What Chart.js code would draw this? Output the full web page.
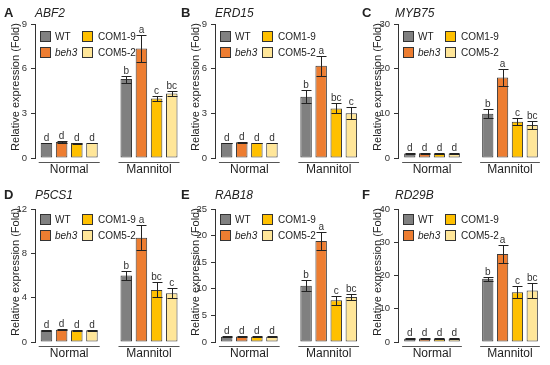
<!DOCTYPE html>
<html>
<head>
<meta charset="utf-8">
<script src="https://cdn.jsdelivr.net/npm/chart.js@4.4.1/dist/chart.umd.min.js"></script>
<style>
    body { margin: 0; background: #fff; }
    #wrap { position: relative; width: 550px; height: 365px; overflow: hidden;
            font-family: 'Liberation Sans', Arial, sans-serif; color: #222; }
    canvas { position: absolute; }
    .t { position: absolute; white-space: nowrap; }
    .sw { position: absolute; width: 11px; height: 11px; box-sizing: border-box; border: 1px solid #333; }
</style>
</head>
<body>
<div id="wrap"></div>
<script>
// Categories and series
const groups = ['Normal', 'Mannitol'];
const lines = ['WT', 'beh3', 'COM1-9', 'COM5-2'];
const lineColors = ['#808080', '#ED7D31', '#FFC000', '#FFE699'];
const genes = ['ABF2', 'ERD15', 'MYB75', 'P5CS1', 'RAB18', 'RD29B'];
const panelLetters = ['A', 'B', 'C', 'D', 'E', 'F'];
const yMax = [9, 9, 30, 12, 25, 40];
const yStep = [3, 3, 10, 4, 5, 10];

// mean values: [Normal x4 lines], [Mannitol x4 lines]
const ABF2_mean = [[1.00, 1.07, 1.00, 1.00], [5.30, 7.35, 4.00, 4.33]];
const ABF2_err = [[0.02, 0.04, 0.03, 0.02], [0.24, 0.88, 0.18, 0.18]];
const ERD15_mean = [[1.00, 1.05, 1.00, 1.00], [4.12, 6.19, 3.33, 3.00]];
const ERD15_err = [[0.02, 0.04, 0.02, 0.02], [0.43, 0.68, 0.34, 0.40]];
const MYB75_mean = [[1.00, 1.05, 1.00, 1.00], [9.90, 18.0, 8.10, 7.40]];
const MYB75_err = [[0.10, 0.15, 0.10, 0.10], [1.05, 1.90, 0.75, 0.95]];
const P5CS1_mean = [[1.05, 1.10, 1.05, 1.05], [6.00, 9.40, 4.70, 4.40]];
const P5CS1_err = [[0.03, 0.06, 0.03, 0.05], [0.42, 1.12, 0.67, 0.45]];
const RAB18_mean = [[1.00, 1.05, 1.00, 1.00], [10.55, 19.0, 7.85, 8.45]];
const RAB18_err = [[0.10, 0.15, 0.10, 0.10], [1.04, 1.76, 0.88, 0.63]];
const RD29B_mean = [[1.00, 1.05, 1.00, 1.00], [19.0, 26.5, 15.0, 15.5]];
const RD29B_err = [[0.10, 0.20, 0.10, 0.10], [0.65, 2.65, 1.85, 2.35]];

// significance letters
const normalLetters = ['d', 'd', 'd', 'd'];
const ABF2_letters = ['b', 'a', 'c', 'bc'];
const ERD15_letters = ['b', 'a', 'bc', 'c'];
const MYB75_letters = ['b', 'a', 'c', 'bc'];
const P5CS1_letters = ['b', 'a', 'bc', 'c'];
const RAB18_letters = ['b', 'a', 'c', 'bc'];
const RD29B_letters = ['b', 'a', 'c', 'bc'];

const means = [ABF2_mean, ERD15_mean, MYB75_mean, P5CS1_mean, RAB18_mean, RD29B_mean];
const errs = [ABF2_err, ERD15_err, MYB75_err, P5CS1_err, RAB18_err, RD29B_err];
const letters = [ABF2_letters, ERD15_letters, MYB75_letters, P5CS1_letters, RAB18_letters, RD29B_letters];

// layout (pixels)
const rows = [
    { top: 0, h: 182, plotTop: 24, plotBottom: 158, legendDy: 7, textY: 13 },
    { top: 182, h: 183, plotTop: 209, plotBottom: 342, legendDy: 5, textY: 195 }
];
const cols = [
    { left: 0, right: 186, axis: 35, c0: 69.2, c1: 149, letterX: 4, geneX: 35, titleX: 14.5 },
    { left: 180, right: 366, axis: 215, c0: 249.3, c1: 328.7, letterX: 181, geneX: 215, titleX: 194.5 },
    { left: 365, right: 550, axis: 398, c0: 432, c1: 510, letterX: 362, geneX: 395, titleX: 376.5 }
];

const FONT = "'Liberation Sans', Arial, sans-serif";
const wrap = document.getElementById('wrap');

function addText(txt, x, y, css) {
    const el = document.createElement('div');
    el.className = 't';
    el.textContent = txt;
    el.style.left = x + 'px';
    el.style.top = y + 'px';
    Object.assign(el.style, css || {});
    wrap.appendChild(el);
    return el;
}

// error bars, letters and group underlines
const annotate = {
    id: 'annotate',
    afterDatasetsDraw(chart) {
        const ctx = chart.ctx;
        const y = chart.scales.y;
        ctx.save();
        ctx.strokeStyle = '#222';
        ctx.lineWidth = 1;
        ctx.fillStyle = '#333';
        ctx.font = '10px ' + FONT;
        ctx.textAlign = 'center';
        ctx.textBaseline = 'alphabetic';
        chart.data.datasets.forEach((ds, d) => {
            const meta = chart.getDatasetMeta(d);
            meta.data.forEach((bar, g) => {
                const m = ds.data[g].y, e = ds.err[g];
                const x = Math.round(bar.x) + 0.5;
                const top = Math.round(y.getPixelForValue(m + e)) + 0.5;
                const bot = Math.round(y.getPixelForValue(m - e)) + 0.5;
                ctx.beginPath();
                ctx.moveTo(x, top); ctx.lineTo(x, bot);
                ctx.moveTo(x - 5, top); ctx.lineTo(x + 5, top);
                ctx.moveTo(x - 5, bot); ctx.lineTo(x + 5, bot);
                ctx.stroke();
                ctx.fillText(ds.letters[g], bar.x, top - 2.5);
            });
        });
        // underline each group
        const first = chart.getDatasetMeta(0).data;
        const last = chart.getDatasetMeta(chart.data.datasets.length - 1).data;
        const uy = Math.round(chart.chartArea.bottom + 4) + 0.5;
        ctx.strokeStyle = '#555';
        groups.forEach((_, g) => {
            ctx.beginPath();
            ctx.moveTo(first[g].x - first[g].width / 2 - 2, uy);
            ctx.lineTo(last[g].x + last[g].width / 2 + 2, uy);
            ctx.stroke();
        });
        ctx.restore();
    }
};

genes.forEach((gene, p) => {
    const row = rows[Math.floor(p / 3)];
    const col = cols[p % 3];
    const unit = col.c1 - col.c0;

    const canvas = document.createElement('canvas');
    canvas.width = col.right - col.left;
    canvas.height = row.h;
    canvas.style.left = col.left + 'px';
    canvas.style.top = row.top + 'px';
    wrap.appendChild(canvas);

    const datasets = lines.map((name, i) => ({
        label: name,
        data: groups.map((_, g) => ({ x: g, y: means[p][g][i] })),
        err: [errs[p][0][i], errs[p][1][i]],
        letters: [normalLetters[i], letters[p][i]],
        backgroundColor: lineColors[i],
        borderColor: '#3a3a3a',
        borderWidth: 1,
        borderSkipped: false,
        categoryPercentage: 0.76,
        barPercentage: 0.76
    }));

    new Chart(canvas.getContext('2d'), {
        type: 'bar',
        data: { datasets: datasets },
        options: {
            responsive: false,
            animation: false,
            devicePixelRatio: 1,
            layout: { padding: { left: 0, top: row.plotTop - row.top, right: 0, bottom: 0 } },
            plugins: { legend: { display: false }, tooltip: { enabled: false } },
            scales: {
                x: {
                    type: 'linear',
                    offset: false,
                    min: -(col.c0 - col.axis) / unit,
                    max: 1 + (col.right - col.c1) / unit,
                    grid: { display: false, drawTicks: false, offset: false },
                    border: { display: false },
                    afterBuildTicks(s) { s.ticks = groups.map((_, g) => ({ value: g })); },
                    ticks: {
                        color: '#222', font: { family: FONT, size: 12 }, padding: 4,
                        autoSkip: false, maxRotation: 0,
                        callback: (v) => groups[v]
                    },
                    afterFit(s) { s.height = row.top + row.h - row.plotBottom; }
                },
                y: {
                    min: 0,
                    max: yMax[p],
                    ticks: { stepSize: yStep[p], color: '#333', font: { family: FONT, size: 9.5 }, padding: 4 },
                    grid: { drawOnChartArea: false, drawTicks: true, tickLength: 4, color: '#333' },
                    border: { color: '#333' },
                    afterFit(s) { s.width = col.axis - col.left; }
                }
            }
        },
        plugins: [annotate]
    });

    // panel letter and gene name
    addText(panelLetters[p], col.letterX, row.textY - 8, { fontWeight: 'bold', fontSize: '13px', lineHeight: '16px' });
    addText(gene, col.geneX, row.textY - 8, { fontStyle: 'italic', fontSize: '12px', lineHeight: '16px' });

    // y axis title
    addText('Relative expression (Fold)', col.titleX, (row.plotTop + row.plotBottom) / 2 - 4, {
        fontSize: '11px', transform: 'translate(-50%, -50%) rotate(-90deg)'
    });

    // legend 2x2
    lines.forEach((name, i) => {
        const cx = col.axis + (i < 2 ? 5 : 47);
        const cy = row.plotTop + row.legendDy + (i % 2) * 16;
        const sw = document.createElement('div');
        sw.className = 'sw';
        sw.style.left = cx + 'px';
        sw.style.top = cy + 'px';
        sw.style.background = lineColors[i];
        wrap.appendChild(sw);
        addText(name, cx + (i < 2 ? 15 : 16), cy - 1, {
            fontSize: '10px', lineHeight: '13px', fontStyle: name === 'beh3' ? 'italic' : 'normal'
        });
    });
});
</script>
</body>
</html>
